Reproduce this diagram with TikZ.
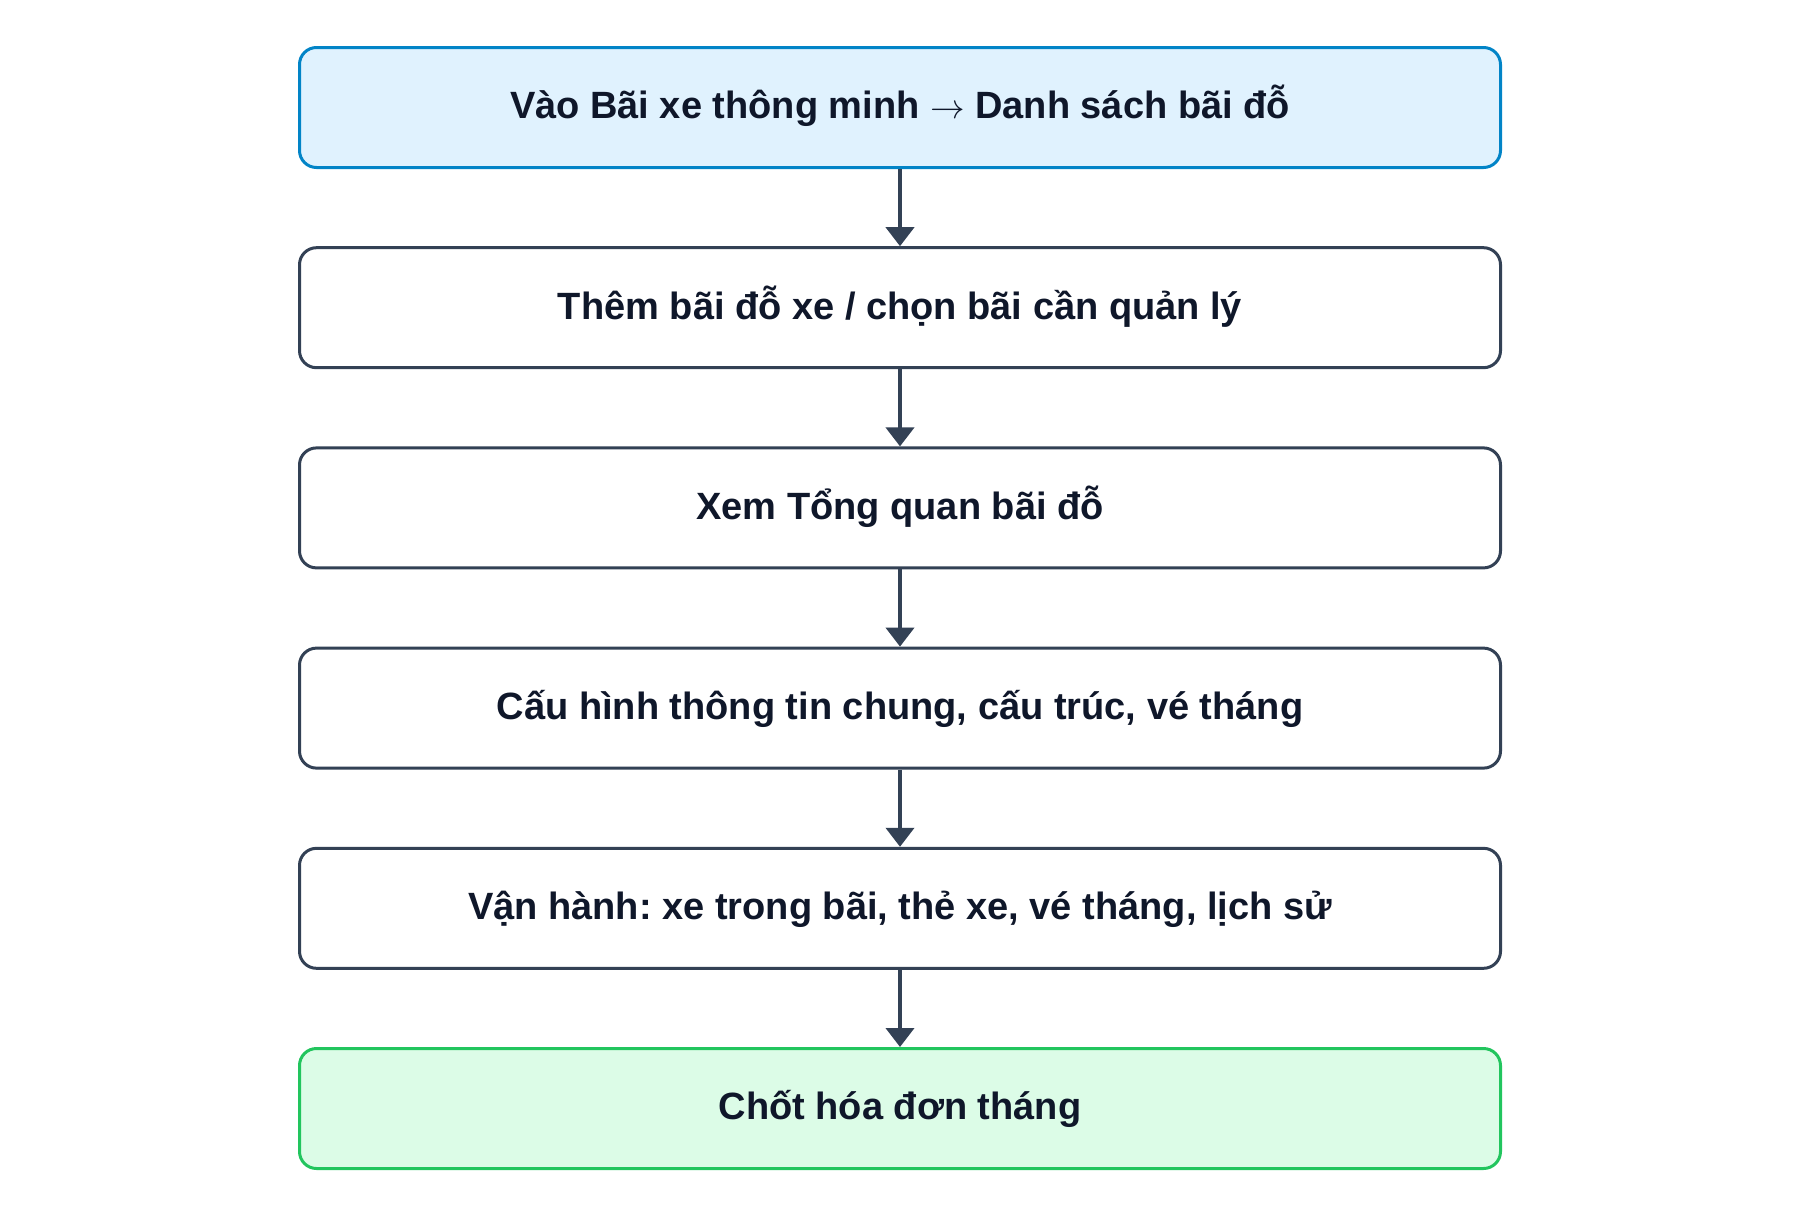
\documentclass[tikz,border=0pt]{standalone}
\usepackage{fontspec}
\setmainfont{Liberation Sans}
\usetikzlibrary{arrows.meta}
\definecolor{txt}{HTML}{0F172A}
\definecolor{slate}{HTML}{334155}
\definecolor{bluefill}{HTML}{E0F2FE}
\definecolor{blueline}{HTML}{0284C7}
\definecolor{greenfill}{HTML}{DCFCE7}
\definecolor{greenline}{HTML}{22C55E}
\tikzset{
  stepbox/.style={draw=slate, fill=white, line width=1.5pt, rounded corners=8.5pt,
    minimum width=600.5pt, minimum height=60pt, inner sep=0pt,
    text=txt, font=\fontsize{19pt}{22pt}\selectfont\bfseries\frenchspacing,
    text height=13.6pt, text depth=2.3pt},
  startbox/.style={stepbox, draw=blueline, fill=bluefill},
  endbox/.style={stepbox, draw=greenline, fill=greenfill},
  flow/.style={draw=slate, line width=2pt, -{Triangle[width=14pt,length=9.5pt]}}
}
\begin{document}
\begin{tikzpicture}[x=0.5pt,y=-0.5pt]
\useasboundingbox (0,0) rectangle (1800,1216);
\node[startbox] (n1) at (900,107.5) {Vào Bãi xe thông minh $\rightarrow$ Danh sách bãi đỗ};
\node[stepbox]  (n2) at (900,307.7) {Thêm bãi đỗ xe / chọn bãi cần quản lý};
\node[stepbox]  (n3) at (900,507.9) {Xem Tổng quan bãi đỗ};
\node[stepbox]  (n4) at (900,708.1) {Cấu hình thông tin chung, cấu trúc, vé tháng};
\node[stepbox]  (n5) at (900,908.3) {Vận hành: xe trong bãi, thẻ xe, vé tháng, lịch sử};
\node[endbox]   (n6) at (900,1108.5) {Chốt hóa đơn tháng};
\draw[flow] (n1) -- (n2);
\draw[flow] (n2) -- (n3);
\draw[flow] (n3) -- (n4);
\draw[flow] (n4) -- (n5);
\draw[flow] (n5) -- (n6);
\end{tikzpicture}
\end{document}
